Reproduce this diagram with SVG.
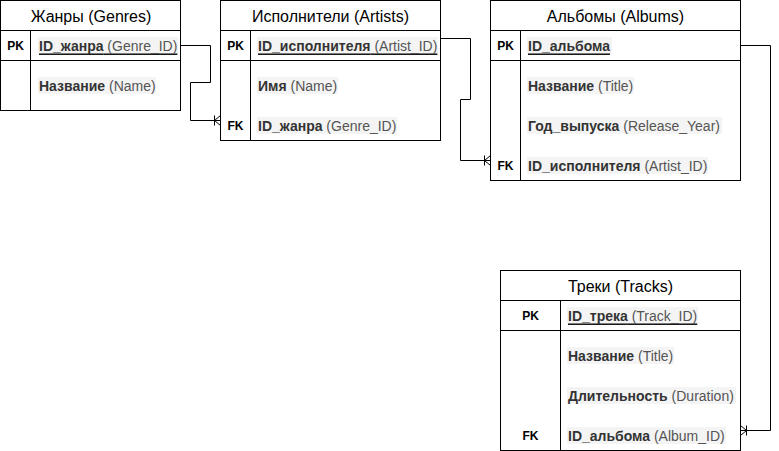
<svg xmlns="http://www.w3.org/2000/svg" width="779" height="451" viewBox="0 0 779 451">
<style>
.box{fill:#fff;stroke:#000;stroke-width:1}
.ln{stroke:#000;stroke-width:1;fill:none}
.hl{fill:#f4f4f4;stroke:none}
.hdr{font-family:"Liberation Sans",Arial,sans-serif;font-size:16px;fill:#000;text-anchor:middle;dominant-baseline:central}
.key{font-family:"Liberation Sans",Arial,sans-serif;font-size:12px;font-weight:bold;fill:#000;text-anchor:middle;dominant-baseline:central}
.fld{font-family:"Liberation Sans",Arial,sans-serif;font-size:14px;dominant-baseline:central}
.b{font-weight:bold;fill:#333}
.n{fill:#555}
.u{text-decoration:underline}
.conn{stroke:#000;stroke-width:1;fill:none}
</style>
<defs>
<marker id="crow" markerUnits="userSpaceOnUse" viewBox="-8 -6 9 12" refX="0" refY="0" markerWidth="9" markerHeight="12" orient="auto" overflow="visible">
<path d="M-6,-5 V5 M-6,0 L0,-5 M-6,0 L0,5" fill="none" stroke="#000" stroke-width="1"/>
</marker>
</defs>

<g id="connectors">
<path class="conn" d="M180.5,45.5 H210.5 V82.5 H190.5 V120.5 H220.5" marker-end="url(#crow)"/>
<path class="conn" d="M440.5,38.5 H470.5 V99.5 H460.5 V160.5 H490.5" marker-end="url(#crow)"/>
<path class="conn" d="M740.5,45.5 H770.5 V430.5 H740.5" marker-end="url(#crow)"/>
</g>

<g id="genres">
<rect class="box" x="0.5" y="0.5" width="180" height="110"/>
<path class="ln" d="M0.5,30.5 H180.5 M0.5,60.5 H180.5 M30.5,30.5 V110.5"/>
<text class="hdr" x="91" y="16">Жанры (Genres)</text>
<text class="key" x="15.5" y="45.5">PK</text>
<rect class="hl" x="38" y="37" width="140" height="17"/>
<text class="fld u" x="39" y="45.5"><tspan class="b">ID_жанра</tspan><tspan class="n"> (Genre_ID)</tspan></text>
<rect class="hl" x="38" y="77" width="118" height="17"/>
<text class="fld" x="39" y="85.5"><tspan class="b">Название</tspan><tspan class="n"> (Name)</tspan></text>
</g>

<g id="artists">
<rect class="box" x="220.5" y="0.5" width="220" height="140"/>
<path class="ln" d="M220.5,30.5 H440.5 M220.5,60.5 H440.5 M250.5,30.5 V140.5"/>
<text class="hdr" x="330.5" y="16">Исполнители (Artists)</text>
<text class="key" x="235.5" y="45.5">PK</text>
<rect class="hl" x="257" y="37" width="181" height="17"/>
<text class="fld u" x="258" y="45.5"><tspan class="b">ID_исполнителя</tspan><tspan class="n"> (Artist_ID)</tspan></text>
<rect class="hl" x="257" y="77" width="81" height="17"/>
<text class="fld" x="258" y="85.5"><tspan class="b">Имя</tspan><tspan class="n"> (Name)</tspan></text>
<text class="key" x="235.5" y="125.5">FK</text>
<rect class="hl" x="257" y="117" width="140" height="17"/>
<text class="fld" x="258" y="125.5"><tspan class="b">ID_жанра</tspan><tspan class="n"> (Genre_ID)</tspan></text>
</g>

<g id="albums">
<rect class="box" x="490.5" y="0.5" width="250" height="180"/>
<path class="ln" d="M490.5,30.5 H740.5 M490.5,60.5 H740.5 M520.5,30.5 V180.5"/>
<text class="hdr" x="615.5" y="16">Альбомы (Albums)</text>
<text class="key" x="505.5" y="45.5">PK</text>
<rect class="hl" x="527" y="37" width="85" height="17"/>
<text class="fld u" x="528" y="45.5"><tspan class="b">ID_альбома </tspan></text>
<rect class="hl" x="527" y="77" width="107" height="17"/>
<text class="fld" x="528" y="85.5"><tspan class="b">Название</tspan><tspan class="n"> (Title)</tspan></text>
<rect class="hl" x="527" y="117" width="195" height="17"/>
<text class="fld" x="528" y="125.5"><tspan class="b">Год_выпуска</tspan><tspan class="n"> (Release_Year)</tspan></text>
<text class="key" x="505.5" y="165.5">FK</text>
<rect class="hl" x="527" y="157" width="181" height="17"/>
<text class="fld" x="528" y="165.5"><tspan class="b">ID_исполнителя</tspan><tspan class="n"> (Artist_ID)</tspan></text>
</g>

<g id="tracks">
<rect class="box" x="500.5" y="270.5" width="240" height="180"/>
<path class="ln" d="M500.5,300.5 H740.5 M500.5,330.5 H740.5 M560.5,300.5 V450.5"/>
<text class="hdr" x="620.5" y="286">Треки (Tracks)</text>
<text class="key" x="530.5" y="315.5">PK</text>
<rect class="hl" x="567" y="307" width="131" height="17"/>
<text class="fld u" x="568" y="315.5"><tspan class="b">ID_трека</tspan><tspan class="n"> (Track_ID)</tspan></text>
<rect class="hl" x="567" y="347" width="107" height="17"/>
<text class="fld" x="568" y="355.5"><tspan class="b">Название</tspan><tspan class="n"> (Title)</tspan></text>
<rect class="hl" x="567" y="387" width="169" height="17"/>
<text class="fld" x="568" y="395.5"><tspan class="b">Длительность</tspan><tspan class="n"> (Duration)</tspan></text>
<text class="key" x="530.5" y="435.5">FK</text>
<rect class="hl" x="567" y="427" width="159" height="17"/>
<text class="fld" x="568" y="435.5"><tspan class="b">ID_альбома</tspan><tspan class="n"> (Album_ID)</tspan></text>
</g>
</svg>
